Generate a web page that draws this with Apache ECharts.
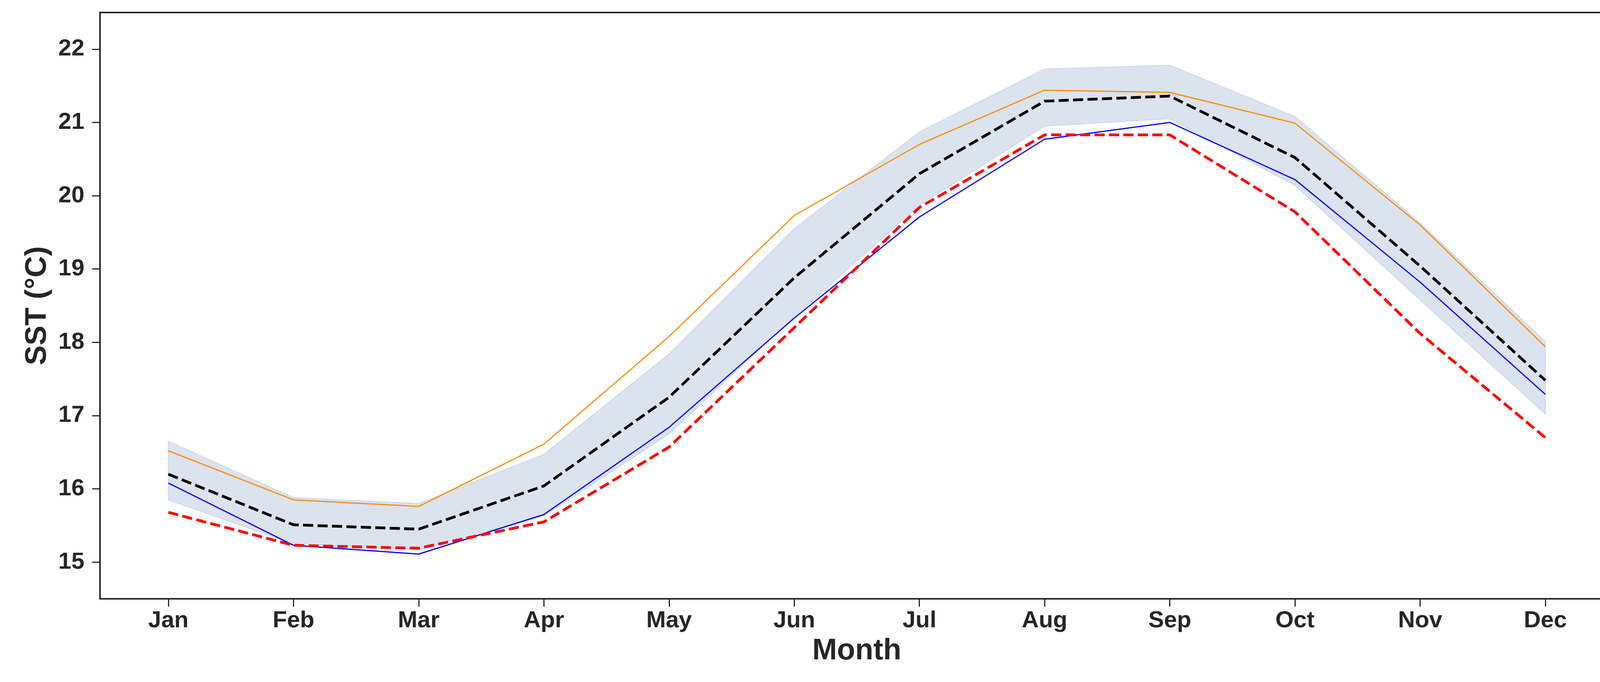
<!DOCTYPE html>
<html>
<head>
<meta charset="utf-8">
<script src="https://cdn.jsdelivr.net/npm/echarts@6/dist/echarts.min.js"></script>
<style>
html,body{margin:0;padding:0;background:#fff;}
#chart{width:4179px;height:1746px;}
</style>
</head>
<body>
<div id="chart"></div>
<script>
const months = ['Jan','Feb','Mar','Apr','May','Jun','Jul','Aug','Sep','Oct','Nov','Dec'];
const yTicks = [15,16,17,18,19,20,21,22];
const orangeLine = [16.52,15.85,15.76,16.61,18.08,19.73,20.70,21.44,21.41,20.99,19.60,17.94];
const blackMean  = [16.20,15.51,15.45,16.04,17.25,18.88,20.30,21.29,21.36,20.52,19.04,17.48];
const blueLine   = [16.08,15.23,15.11,15.65,16.84,18.33,19.71,20.77,21.00,20.22,18.82,17.29];
const redLine    = [15.68,15.23,15.19,15.55,16.57,18.20,19.84,20.83,20.83,19.78,18.12,16.70];
const bandTop    = [16.65,15.88,15.80,16.47,17.84,19.55,20.87,21.73,21.78,21.08,19.63,18.01];
const bandBottom = [15.85,15.25,15.17,15.63,16.75,18.35,19.87,20.95,21.05,20.14,18.58,17.02];

const xy = arr => arr.map((v,i)=>[i,v]);
const monthIdx = months.map((m,i)=>i);
const bandData = months.map((m,i)=>[i, bandBottom[i], bandTop[i]]);

const font = 'Liberation Sans, Arial, sans-serif';
const textCol = '#262626';

function renderBand(params, api){
  if (params.dataIndex !== 0) return null;
  const top = bandData.map(d => api.coord([d[0], d[2]]));
  const bot = bandData.map(d => api.coord([d[0], d[1]]));
  const poly = top.concat(bot.slice().reverse());
  return {
    type:'group',
    children:[
      {type:'polygon', shape:{points:poly}, style:{fill:'#dbe3ef', stroke:'#c9d6ea', lineWidth:2}}
    ]
  };
}

const chart = echarts.init(document.getElementById('chart'), null, {renderer:'canvas'});
chart.setOption({
  animation:false,
  backgroundColor:'#fff',
  grid:{left:256, right:48, top:32, bottom:213, show:true, borderColor:'#262626', borderWidth:4, backgroundColor:'transparent'},
  xAxis:{
    type:'value', min:-0.546, max:11.546,
    name:'Month', nameLocation:'middle', nameGap:96,
    nameTextStyle:{fontFamily:font, fontWeight:'bold', fontSize:76, color:textCol},
    axisLine:{show:true, onZero:false, lineStyle:{color:'#262626', width:4}},
    axisTick:{show:true, length:20, lineStyle:{color:'#262626', width:3}, customValues:monthIdx},
    axisLabel:{show:true, margin:26, fontFamily:font, fontWeight:'bold', fontSize:60, color:textCol,
      customValues:monthIdx, formatter:v=>months[Math.round(v)]},
    splitLine:{show:false}
  },
  yAxis:{
    type:'value', min:14.5, max:22.5,
    name:'SST (°C)', nameLocation:'middle', nameGap:122,
    nameTextStyle:{fontFamily:font, fontWeight:'bold', fontSize:76, color:textCol},
    axisLine:{show:true, onZero:false, lineStyle:{color:'#262626', width:4}},
    axisTick:{show:true, length:20, lineStyle:{color:'#262626', width:3}, customValues:yTicks},
    axisLabel:{show:true, margin:40, fontFamily:font, fontWeight:'bold', fontSize:60, color:textCol,
      customValues:yTicks},
    splitLine:{show:false}
  },
  series:[
    {type:'custom', name:'band', data:bandData, renderItem:renderBand, silent:true, z:1,
      encode:{x:0, y:[1,2]}},
    {type:'line', name:'orange', data:xy(orangeLine), showSymbol:false,
      lineStyle:{color:'#ff8c00', width:3}, z:3},
    {type:'line', name:'blue', data:xy(blueLine), showSymbol:false,
      lineStyle:{color:'#0000ff', width:3}, z:3},
    {type:'line', name:'red', data:xy(redLine), showSymbol:false,
      lineStyle:{color:'#ff0000', width:7, type:[26,11]}, z:4},
    {type:'line', name:'mean', data:xy(blackMean), showSymbol:false,
      lineStyle:{color:'#000000', width:7, type:[26,11]}, z:5}
  ]
});
</script>
</body>
</html>
